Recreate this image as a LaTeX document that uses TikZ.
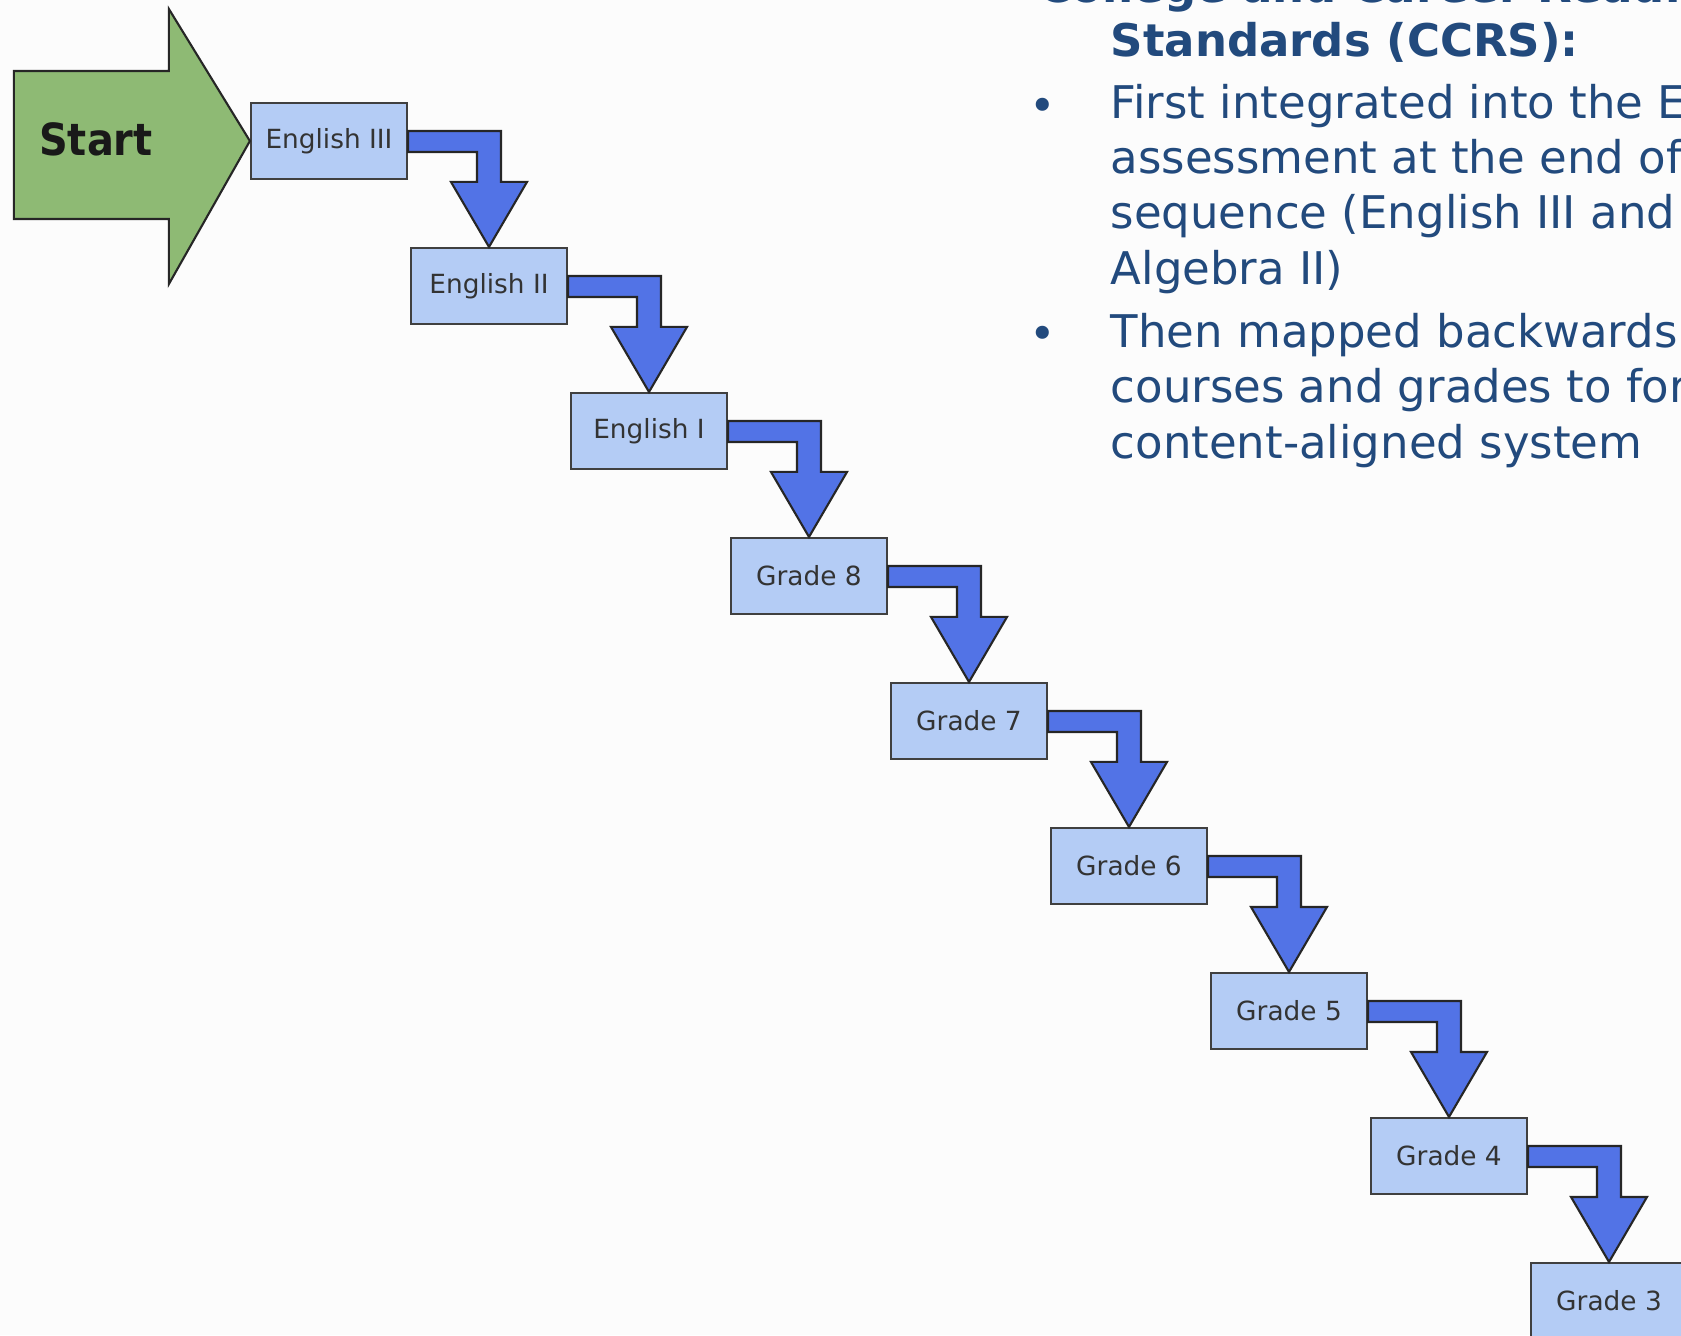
\documentclass[tikz,border=0pt]{standalone}
\usepackage{fontspec}
\setmainfont{DejaVu Sans}
\newfontfamily\boxfont{DejaVu Sans}
\newfontfamily\notefont{DejaVu Sans}
\newfontfamily\startfont[FakeStretch=0.9]{DejaVu Sans}
\usetikzlibrary{calc}
\definecolor{startgreen}{RGB}{142,186,116}
\definecolor{gradefill}{RGB}{180,204,245}
\definecolor{stepblue}{RGB}{82,115,230}
\definecolor{noteblue}{RGB}{34,74,125}
\definecolor{paper}{RGB}{252,252,252}
\tikzset{
  gradebox/.style={draw=black!75,fill=gradefill,line width=0.6pt,minimum width=1.56cm,minimum height=0.76cm,inner sep=0pt,text=black!80,font=\boxfont\fontsize{7.5}{9}\selectfont},
  steparrow/.style={draw=black!85,fill=stepblue,line width=0.6pt,line join=miter},
  startarrow/.style={draw=black!85,fill=startgreen,line width=0.6pt},
  notetext/.style={anchor=base west,inner sep=0pt,align=left,text=noteblue,font=\notefont\fontsize{12.8}{15.65}\selectfont}
}

\begin{document}
\begin{tikzpicture}[x=0.01cm,y=-0.01cm]
  \useasboundingbox[fill=paper] (0,0) rectangle (1681,1335);
  \clip (0,0) rectangle (1681,1335);

  \node[gradebox] (e3) at (329,141) {English III};
  \node[gradebox] (e2) at (489,286) {English II};
  \node[gradebox] (e1) at (649,431) {English I};
  \node[gradebox] (g8) at (809,576) {Grade 8};
  \node[gradebox] (g7) at (969,721) {Grade 7};
  \node[gradebox] (g6) at (1129,866) {Grade 6};
  \node[gradebox] (g5) at (1289,1011) {Grade 5};
  \node[gradebox] (g4) at (1449,1156) {Grade 4};
  \node[gradebox] (g3) at (1609,1301) {Grade 3};

  % big start arrow, tip on English III
  \draw[startarrow] (e3.west) -- ++(-81,-132) -- ++(0,62) -- ++(-155,0) -- ++(0,148) -- ++(155,0) -- ++(0,65) -- cycle;
  \node[text=black!90,font=\startfont\bfseries\fontsize{12.6}{14}\selectfont] (start) at (96,139) {Start};

  % bent arrows down the stairs
  \foreach \a/\b in {e3/e2,e2/e1,e1/g8,g8/g7,g7/g6,g6/g5,g5/g4,g4/g3}
    \filldraw[steparrow] ($(\a.east)+(0,-10)$) -| ($(\b.north)+(12,-65)$) -- ++(26,0) -- (\b.north) -- ++(-38,-65) -- ++(26,0) |- ($(\a.east)+(0,11)$) -- cycle;

  % text on the right
  \node[notetext] (title1) at (1038,2) {\bfseries College and Career Readiness};
  \node[notetext] (title2) at (1110,56) {\bfseries Standards (CCRS):};
  \node[notetext,anchor=base] (dot1) at (1043,121) {•};
  \node[notetext] (first) at (1110,284) {First integrated into the EOC\\assessment at the end of the\\sequence (English III and\\Algebra II)};
  \node[notetext,anchor=base] (dot2) at (1043,349) {•};
  \node[notetext] (then) at (1110,458) {Then mapped backwards to\\courses and grades to form\\content-aligned system};
\end{tikzpicture}
\end{document}
